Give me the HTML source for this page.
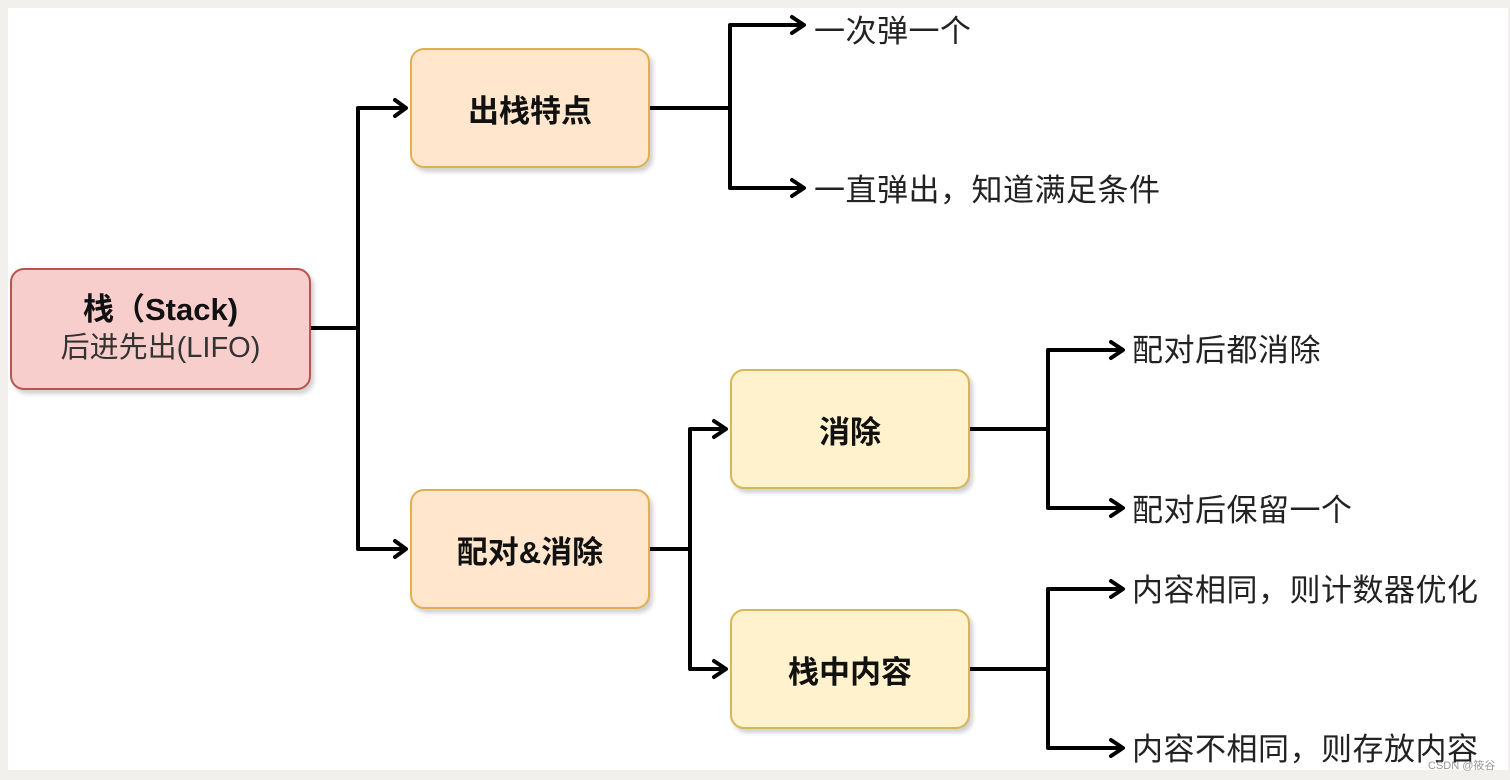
<!DOCTYPE html>
<html><head><meta charset="utf-8"><style>
body{margin:0;width:1510px;height:780px;background:#f1f0ed;position:relative;overflow:hidden;font-family:"Liberation Sans","Noto Sans CJK SC",sans-serif}
.wh{position:absolute;left:8px;top:8px;width:1500px;height:762px;background:#fff}
.b{position:absolute;box-sizing:border-box;border-radius:14px;display:flex;align-items:center;justify-content:center;flex-direction:column;font-weight:bold;font-size:31px;color:#111;box-shadow:3px 4px 4px rgba(0,0,0,.18)}
.t{position:absolute;font-size:31px;color:#222;white-space:nowrap;line-height:34px;letter-spacing:0.5px}
</style></head><body>
<div class="wh"></div>
<svg width="1510" height="780" style="position:absolute;left:0;top:0">
<g fill="none" stroke="#000" stroke-width="4" stroke-linecap="round" stroke-linejoin="round">
<path d="M311 328H358M358 108V549M358 108H405M358 549H405"/>
<path d="M395 100L406 108L395 116M395 541L406 549L395 557"/>
<path d="M650 108H730M730 25V188M730 25H803M730 188H803"/>
<path d="M792 17L804 25L792 33M792 180L804 188L792 196"/>
<path d="M650 549H690M690 429V669M690 429H725M690 669H725"/>
<path d="M714 421L726 429L714 437M714 661L726 669L714 677"/>
<path d="M970 429H1048M1048 350V508M1048 350H1122M1048 508H1122"/>
<path d="M1111 342L1123 350L1111 358M1111 500L1123 508L1111 516"/>
<path d="M970 669H1048M1048 589V748M1048 589H1122M1048 748H1122"/>
<path d="M1111 581L1123 589L1111 597M1111 740L1123 748L1111 756"/>
</g></svg>
<div class="b" style="left:10px;top:268px;width:301px;height:122px;background:#f8cecc;border:2px solid #b85450;line-height:38px"><div>栈（Stack)</div><div style="font-weight:normal;font-size:29px;color:#333">后进先出(LIFO)</div></div>
<div class="b" style="left:410px;top:48px;width:240px;height:120px;background:#ffe6cc;border:2px solid #e0b050">出栈特点</div>
<div class="b" style="left:410px;top:489px;width:240px;height:120px;background:#ffe6cc;border:2px solid #e0b050">配对&amp;消除</div>
<div class="b" style="left:730px;top:369px;width:240px;height:120px;background:#fff2cc;border:2px solid #d6b656">消除</div>
<div class="b" style="left:730px;top:609px;width:240px;height:120px;background:#fff2cc;border:2px solid #d6b656">栈中内容</div>
<div class="t" style="left:814px;top:15px">一次弹一个</div>
<div class="t" style="left:814px;top:174px">一直弹出，知道满足条件</div>
<div class="t" style="left:1132px;top:334px">配对后都消除</div>
<div class="t" style="left:1132px;top:494px">配对后保留一个</div>
<div class="t" style="left:1132px;top:574px">内容相同，则计数器优化</div>
<div class="t" style="left:1132px;top:733px">内容不相同，则存放内容</div>
<div style="position:absolute;left:1428px;top:757px;font-size:11px;color:#999">CSDN @筱谷</div>
</body></html>
